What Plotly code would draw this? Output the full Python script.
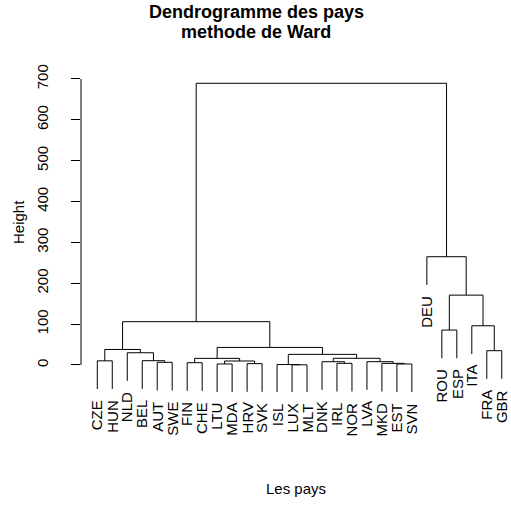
import plotly.graph_objects as go

# Countries in dendrogram leaf order
labels = ["CZE", "HUN", "NLD", "BEL", "AUT", "SWE", "FIN", "CHE", "LTU", "MDA",
          "HRV", "SVK", "ISL", "LUX", "MLT", "DNK", "IRL", "NOR", "LVA", "MKD",
          "EST", "SVN", "DEU", "ROU", "ESP", "ITA", "FRA", "GBR"]

# hclust-style merge table: negative = leaf (1-based), positive = earlier merge row (1-based)
merge_left = [-14, -13, -21, -9, -11, -20, -17, -7, -5, -16, -19, 4, -1, -4,
              8, 10, 2, -3, -27, 13, 15, -24, -26, 20, 22, -23, 24]
merge_right = [-15, 1, -22, -10, -12, 3, -18, -8, -6, 7, 6, 5, -2, 9,
               12, 11, 16, 14, -28, 18, 17, -25, 19, 21, 23, 25, 26]
merge_height = [0.4, 1.1, 2.4, 2.5, 3.3, 4.0, 4.1, 5.6, 6.5, 8.0, 8.1, 9.8, 10.2, 10.5,
                16.2, 16.4, 26.0, 30.0, 35.0, 38.0, 43.0, 85.5, 96.0, 106.0, 171.0,
                265.0, 689.5]

cut_height = 250
y_ticks = [0, 100, 200, 300, 400, 500, 600, 700]

hang = 0.1 * max(merge_height)

# figure geometry
W, Hh = 511, 523
ml, mr, mt, mb = 81, 0, 70, 131
YMIN, YMAX = -66.1, 722.0
plot_h = Hh - mt - mb


def px_to_paper_y(py):
    return (Hh - mb - py) / plot_h


def data_to_paper_y(v):
    return (v - YMIN) / (YMAX - YMIN)


# node positions and segments of the tree
node_x = {}
xs, ys = [], []
leaf_y = {}


def child_xy(c, H):
    if c < 0:
        i = -c
        leaf_y[i] = H - hang
        return i, H - hang
    return node_x[c], merge_height[c - 1]


for k, (a, b, H) in enumerate(zip(merge_left, merge_right, merge_height), start=1):
    xa, ya = child_xy(a, H)
    xb, yb = child_xy(b, H)
    xs += [xa, xa, xb, xb, None]
    ys += [ya, H, H, yb, None]
    node_x[k] = (xa + xb) / 2

fig = go.Figure()
fig.add_trace(go.Scatter(x=xs, y=ys, mode="lines",
                         line=dict(color="black", width=1),
                         hoverinfo="skip", showlegend=False))

fig.add_hline(y=cut_height, line=dict(color="red", width=1.4))

FONT = "Liberation Sans, Arial, Helvetica, sans-serif"

annotations = []
for i, lab in enumerate(labels, start=1):
    annotations.append(dict(x=i, y=data_to_paper_y(leaf_y[i]), xref="x", yref="paper",
                            text=lab, textangle=-90, showarrow=False,
                            xanchor="center", yanchor="top", yshift=-9,
                            font=dict(family=FONT, size=15, color="black")))

# title lines
annotations.append(dict(x=(256 - ml) / (W - ml - mr), y=px_to_paper_y(12),
                        xref="paper", yref="paper", text="<b>Dendrogramme des pays</b>",
                        showarrow=False, xanchor="center", yanchor="middle",
                        font=dict(family=FONT, size=18, color="black")))
annotations.append(dict(x=(256 - ml) / (W - ml - mr), y=px_to_paper_y(32),
                        xref="paper", yref="paper", text="<b>methode de Ward</b>",
                        showarrow=False, xanchor="center", yanchor="middle",
                        font=dict(family=FONT, size=18, color="black")))

# axis titles
annotations.append(dict(x=0.5, y=px_to_paper_y(488), xref="paper", yref="paper",
                        text="Les pays", showarrow=False,
                        xanchor="center", yanchor="middle",
                        font=dict(family=FONT, size=15, color="black")))
annotations.append(dict(x=(18 - ml) / (W - ml - mr), y=px_to_paper_y(222),
                        xref="paper", yref="paper", text="Height",
                        showarrow=False, textangle=-90,
                        xanchor="center", yanchor="middle",
                        font=dict(family=FONT, size=15, color="black")))

fig.update_layout(
    width=W, height=Hh,
    margin=dict(l=ml, r=mr, t=mt, b=mb),
    paper_bgcolor="white", plot_bgcolor="white",
    xaxis=dict(range=[-0.088, 28.617], showgrid=False, zeroline=False,
               showticklabels=False, ticks="", showline=False),
    yaxis=dict(range=[YMIN, YMAX], showgrid=False, zeroline=False,
               tickvals=y_ticks, ticktext=[str(v) for v in y_ticks],
               tickangle=-90, ticks="outside", ticklen=9, tickcolor="black",
               tickwidth=1, ticklabelstandoff=17,
               tickfont=dict(family=FONT, size=15, color="black"),
               showline=False),
    annotations=annotations,
    shapes=[dict(type="line", xref="paper", yref="y", x0=0, x1=0, y0=0, y1=700,
                 line=dict(color="black", width=1))],
)

fig.write_html("out.html")
